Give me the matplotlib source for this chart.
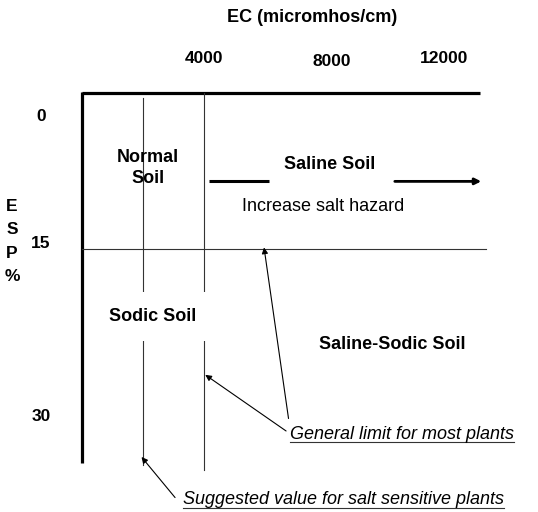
#soil classification chart: EC vs ESP
import numpy as np
import matplotlib.pyplot as plt

plt.rcParams['font.family'] = ['Liberation Sans', 'DejaVu Sans']

#data
ec_ticks = [4000, 8000, 12000]
esp_ticks = [0, 15, 30]
ec_general = 4000      # general limit for most plants
ec_sensitive = 2000    # suggested value for salt sensitive plants
esp_limit = 15
ec_max = 13050
esp_max = 35.6

regions = ['Normal\nSoil', 'Saline Soil', 'Sodic Soil', 'Saline-Sodic Soil']
region_ec = [2164, 8131, 2330, 10160]
region_esp = [7.2, 6.9, 21.5, 24.2]

fig = plt.figure(figsize=(5.38, 5.12), dpi=100)
ax = fig.add_axes([0, 0, 1, 1])
ax.set_xlim(-2690, 14950)
ax.set_ylim(40.29, -8.94)
ax.axis('off')

#main axes (thick)
ax.plot([0, ec_max], [0, 0], color='black', lw=2.3, solid_capstyle='butt')
ax.plot([0, 0], [-0.1, esp_max], color='black', lw=2.3, solid_capstyle='butt')

#limit lines
ax.plot([0, 13250], [esp_limit, esp_limit], color='#333333', lw=0.8)
ax.plot([ec_general, ec_general], [0, 36.25], color='#333333', lw=0.8)
ax.plot([ec_sensitive, ec_sensitive], [0.5, 35.8], color='#333333', lw=0.8)

#tick labels
tick_dx = [0, 6, -4]
tick_dy = [-34, -31, -34]
for t, dx, dy in zip(ec_ticks, tick_dx, tick_dy):
    ax.annotate(str(t), (t, 0), xytext=(dx, -dy), textcoords='offset pixels',
                ha='center', va='center', fontsize=12.5, fontweight='bold')
ax.text(7550, -7.3, 'EC (micromhos/cm)', ha='center', va='center',
        fontsize=13, fontweight='bold')

esp_dy = [-24, 5, -12]
for t, dy in zip(esp_ticks, esp_dy):
    ax.annotate(str(t), (0, t), xytext=(-41, dy), textcoords='offset pixels',
                ha='center', va='center', fontsize=12.5, fontweight='bold')
for ch, yy in zip(['E', 'S', 'P', '%'], [10.9, 13.1, 15.4, 17.6]):
    ax.text(-2300, yy, ch, ha='center', va='center', fontsize=12.5, fontweight='bold')

#region labels
for i, (lab, x, y) in enumerate(zip(regions, region_ec, region_esp)):
    kw = {}
    if lab == 'Sodic Soil':
        kw['bbox'] = dict(boxstyle='square,pad=0.9', fc='white', ec='none')
    ax.text(x, y, lab, ha='center', va='center', fontsize=13,
            fontweight='bold', zorder=5, linespacing=1.35, **kw)

ax.text(7900, 10.96, 'Increase salt hazard', ha='center', va='center', fontsize=13)

#saline arrow
ax.plot([4164, 6131], [8.46, 8.46], color='black', lw=2.2, solid_capstyle='butt')
ax.annotate('', xy=(13180, 8.5), xytext=(10164, 8.5),
            arrowprops=dict(arrowstyle='-|>', color='black', lw=2.0, mutation_scale=9))

#notes
t1 = ax.text(6820, 32.8, 'General limit for most plants', ha='left', va='center',
             fontsize=13, style='italic')
t2 = ax.text(3311, 39.1, 'Suggested value for salt sensitive plants', ha='left',
             va='center', fontsize=13, style='italic')

ap = dict(arrowstyle='-|>', color='black', lw=0.8, mutation_scale=9, shrinkA=0, shrinkB=0)
ax.annotate('', xy=(5967, 14.85), xytext=(6770, 31.3), arrowprops=ap)
ax.annotate('', xy=(4040, 27.1), xytext=(6690, 32.5), arrowprops=ap)
ax.annotate('', xy=(1950, 35.0), xytext=(3050, 38.9), arrowprops=ap)

#underline the notes
fig.canvas.draw()
inv = ax.transData.inverted()
for t in [t1, t2]:
    bb = t.get_window_extent()
    (x0, y0), (x1, y1) = inv.transform([[bb.x0, bb.y0], [bb.x1, bb.y0]])
    ax.plot([x0, x1], [y0 - 0.05, y0 - 0.05], color='#333333', lw=0.8)

fig.savefig('out.png', dpi=100)
